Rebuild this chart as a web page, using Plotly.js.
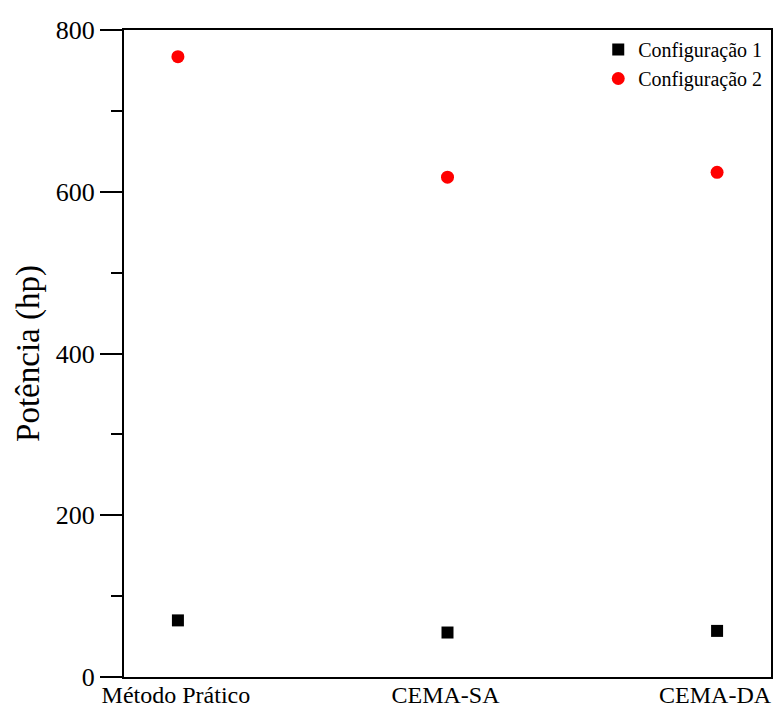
<!DOCTYPE html>
<html>
<head>
<meta charset="utf-8">
<script src="https://cdn.plot.ly/plotly-2.35.2.min.js"></script>
<style>html,body{margin:0;padding:0;background:#fff;}#chart{width:775px;height:710px;}</style>
</head>
<body>
<div id="chart"></div>
<script>
const categories = ["Método Prático", "CEMA-SA", "CEMA-DA"];
const config1 = [70, 55, 57];
const config2 = [767, 618, 624];
const seriesNames = ["Configuração 1", "Configuração 2"];
const yTickVals = [0, 200, 400, 600, 800];

const serif = "'Liberation Serif', 'Times New Roman', serif";

const traces = [
  {
    x: categories, y: config1, name: seriesNames[0], type: "scatter", mode: "markers",
    marker: {symbol: "square", size: 12, color: "#000000"}
  },
  {
    x: categories, y: config2, name: seriesNames[1], type: "scatter", mode: "markers",
    marker: {symbol: "circle", size: 13, color: "#ff0000"}
  }
];

const layout = {
  width: 775, height: 710,
  margin: {l: 124, r: 4, t: 30, b: 33},
  paper_bgcolor: "#ffffff", plot_bgcolor: "#ffffff",
  font: {family: serif, color: "#000000"},
  showlegend: true,
  legend: {
    x: 0.733, y: 1.0, xanchor: "left", yanchor: "top",
    font: {family: serif, size: 20, color: "#000"},
    bgcolor: "rgba(0,0,0,0)", borderwidth: 0, itemwidth: 30,
    tracegroupgap: 0
  },
  xaxis: {
    type: "category", range: [-0.2, 2.2],
    showgrid: false, zeroline: false,
    showline: true, linecolor: "#000", linewidth: 2, mirror: true,
    ticks: "", tickfont: {family: serif, size: 24, color: "#000"},
    ticklabelshift: -2, ticklabelstandoff: -5
  },
  yaxis: {
    range: [0, 800], tickvals: yTickVals,
    showgrid: false, zeroline: false,
    showline: true, linecolor: "#000", linewidth: 2, mirror: true,
    ticks: "outside", ticklen: 22, tickwidth: 2, tickcolor: "#000",
    minor: {dtick: 100, ticks: "outside", ticklen: 11, tickwidth: 2, tickcolor: "#000", showgrid: false},
    tickfont: {family: serif, size: 26, color: "#000"},
    title: {text: "Potência (hp)", font: {family: serif, size: 33, color: "#000"}, standoff: 6}
  }
};

Plotly.newPlot("chart", traces, layout, {displayModeBar: false, staticPlot: true});
</script>
</body>
</html>
